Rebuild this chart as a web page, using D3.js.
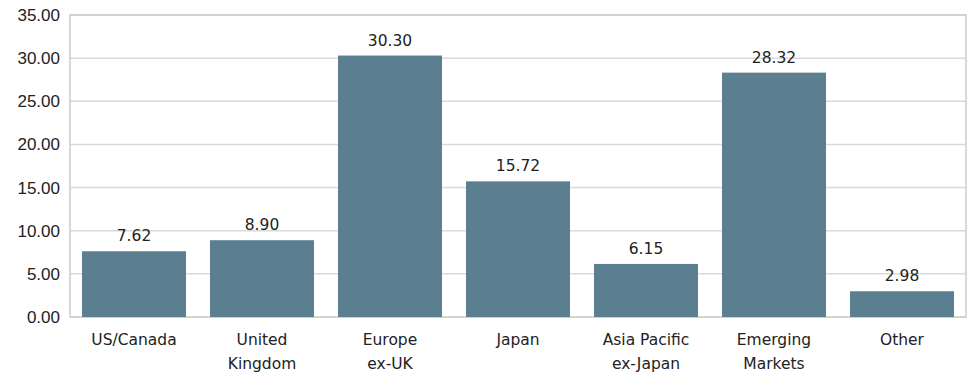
<!DOCTYPE html>
<html><head><meta charset="utf-8">
<script src="https://cdn.jsdelivr.net/npm/d3@7"></script>
<style>body{margin:0;background:#fff}</style>
</head><body>
<svg id="c" width="970" height="373"></svg>
<script>
const categories = [["US/Canada"],["United","Kingdom"],["Europe","ex-UK"],["Japan"],["Asia Pacific","ex-Japan"],["Emerging","Markets"],["Other"]];
const values = [7.62, 8.90, 30.30, 15.72, 6.15, 28.32, 2.98];
const yTicks = [0,5,10,15,20,25,30,35];

const svg = d3.select("#c");
const m = {l:70, r:4, t:15, b:56};
const W = 970, H = 373;
const x = d3.scaleBand().domain(d3.range(values.length)).range([m.l, W - m.r]).paddingInner(0.1875).paddingOuter(0.09375);
const y = d3.scaleLinear().domain([0,35]).range([H - m.b, m.t]);

// gridlines
svg.append("g").selectAll("line").data(yTicks).join("line")
  .attr("x1", m.l).attr("x2", W - m.r)
  .attr("y1", d=>y(d)).attr("y2", d=>y(d))
  .attr("stroke", "#d9d9d9").attr("stroke-width", 1.5);

// border
svg.append("rect").attr("x", m.l).attr("y", m.t).attr("width", W - m.r - m.l).attr("height", y(0)-m.t)
  .attr("fill","none").attr("stroke","#cccccc").attr("stroke-width",1.5);

// bars
svg.append("g").selectAll("rect").data(values).join("rect")
  .attr("x",(d,i)=>x(i)).attr("width",x.bandwidth())
  .attr("y",d=>y(d)).attr("height",d=>y(0)-y(d))
  .attr("fill","#5b7e91");

// value labels
svg.append("g").selectAll("text").data(values).join("text")
  .attr("x",(d,i)=>x(i)+x.bandwidth()/2).attr("y",d=>y(d)-10)
  .attr("text-anchor","middle")
  .attr("font-family","'DejaVu Sans', sans-serif").attr("font-size",15.5).attr("fill","#222")
  .text(d=>d.toFixed(2));

// y axis labels
const yAxis = d3.axisLeft(y).tickValues(yTicks).tickFormat(d=>d.toFixed(2)).tickSize(0).tickPadding(10);
const ya = svg.append("g").attr("transform",`translate(${m.l},0)`).call(yAxis);
ya.select(".domain").remove();
ya.selectAll("text").attr("font-family","'Liberation Sans', Arial, sans-serif").attr("font-size",17).attr("fill","#222");

// category labels
const xl = svg.append("g").selectAll("text").data(categories).join("text")
  .attr("x",(d,i)=>x(i)+x.bandwidth()/2).attr("y",345)
  .attr("text-anchor","middle")
  .attr("font-family","'DejaVu Sans', sans-serif").attr("font-size",15.5).attr("fill","#222");
xl.selectAll("tspan").data(d=>d).join("tspan")
  .attr("x",function(){return this.parentNode.getAttribute("x");})
  .attr("dy",(d,j)=>j===0?0:24).text(d=>d);
</script>
</body></html>
